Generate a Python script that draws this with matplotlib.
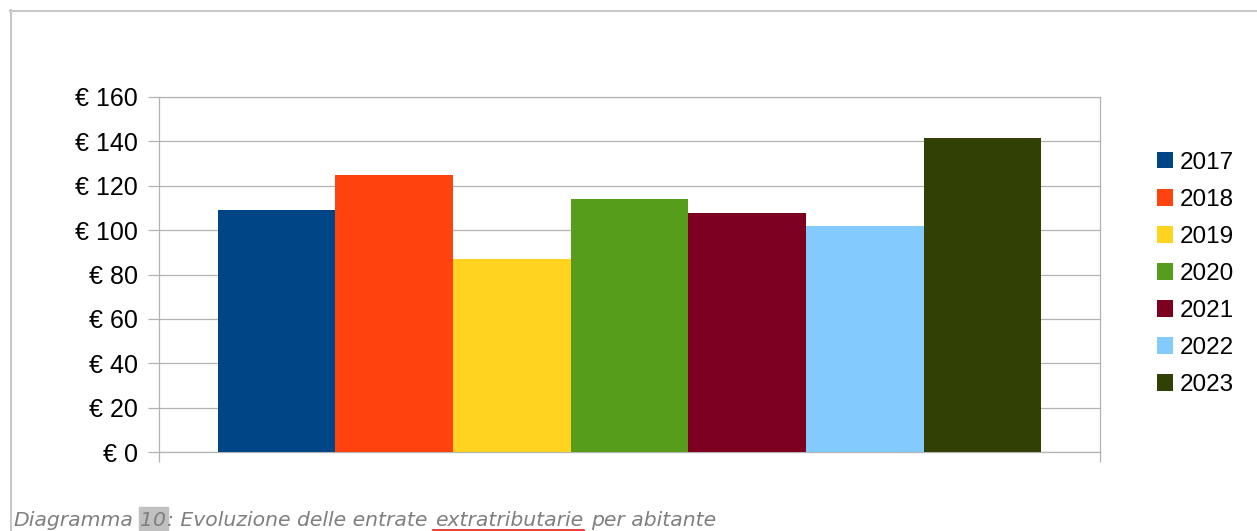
import numpy as np
import matplotlib
matplotlib.use("Agg")
import matplotlib.pyplot as plt
from matplotlib.patches import Rectangle
from matplotlib.lines import Line2D

# data
years = ["2017", "2018", "2019", "2020", "2021", "2022", "2023"]
values = [109.1, 124.8, 86.8, 114.0, 107.6, 101.8, 141.6]
colors = ["#004586", "#ff420e", "#ffd320", "#579d1c", "#7e0021", "#83caff", "#314004"]
yticks = [0, 20, 40, 60, 80, 100, 120, 140, 160]
ytick_labels = ["€ %d" % v for v in yticks]

# caption pieces (text, followed by a space?)
cap_pieces = [("Diagramma", True), ("10", False), (": Evoluzione delle entrate", True),
              ("extratributarie", True), ("per abitante", False)]

W, H = 1257, 531
plt.rcParams['font.family'] = ['Liberation Sans', 'DejaVu Sans']
fig = plt.figure(figsize=(W / 100, H / 100), dpi=100)

gray = "#b3b3b3"
ax = fig.add_axes([159 / W, 1 - 452 / H, (1100 - 159) / W, (452 - 97) / H])
x = np.arange(len(years))
bars = ax.bar(x, values, width=1.0, color=colors, label=years, zorder=3)

ax.set_xlim(-1.0, 7.0)
ax.set_ylim(0, 160)
ax.set_yticks(yticks)
ax.set_yticklabels(ytick_labels, fontsize=18)
ax.set_xticks([-1.0, 7.0])
ax.set_xticklabels([])
ax.tick_params(axis='y', length=8, width=0.9, color=gray, pad=7)
ax.tick_params(axis='x', length=7.2, width=0.9, color=gray)
ax.yaxis.grid(True, color=gray, linewidth=0.9)
ax.set_axisbelow(True)
for s in ax.spines.values():
    s.set_color(gray)
    s.set_linewidth(0.9)

ax.legend(handles=list(bars), labels=years, loc='center left',
          bbox_to_anchor=(1157 / W, 1 - 274 / H), bbox_transform=fig.transFigure,
          frameon=False, fontsize=17.5, handlelength=0.66, handleheight=0.66,
          handletextpad=0.29, labelspacing=0.62, borderpad=0, borderaxespad=0)

# outer frame (top and left edges only visible)
fig.add_artist(Line2D([10 / W, 1.0], [1 - 10.5 / H] * 2, color="#c8c8c8", lw=1.5,
                      transform=fig.transFigure))
fig.add_artist(Line2D([10.5 / W] * 2, [0.0, 1 - 10 / H], color="#c8c8c8", lw=1.5,
                      transform=fig.transFigure))

# caption, laid out piece by piece
fs = 14.7
cap = dict(fontsize=fs, style='italic', color="#7f7f7f", family='DejaVu Sans',
           va='baseline', ha='left')
space = 0.318 * fs * 100 / 72
renderer = fig.canvas.get_renderer()
y_cap = 1 - 526 / H
px = 13
boxes = []
for text, gap in cap_pieces:
    t = fig.text(px / W, y_cap, text, **cap)
    bb = t.get_window_extent(renderer)
    boxes.append((px, bb.x1))
    px = bb.x1 + 1 + (space if gap else 0)

x0, x1 = boxes[1]
fig.add_artist(Rectangle(((x0 - 1) / W, 0), (x1 - x0 + 3) / W, 24 / H, color="#c0c0c0",
                         transform=fig.transFigure, zorder=0))
x0, x1 = boxes[3]
fig.add_artist(Line2D([(x0 - 2) / W, (x1 + 1) / W], [1 - 529.5 / H] * 2,
                      color="#e0201a", lw=1.2, transform=fig.transFigure))

fig.savefig("out.png", dpi=100)
